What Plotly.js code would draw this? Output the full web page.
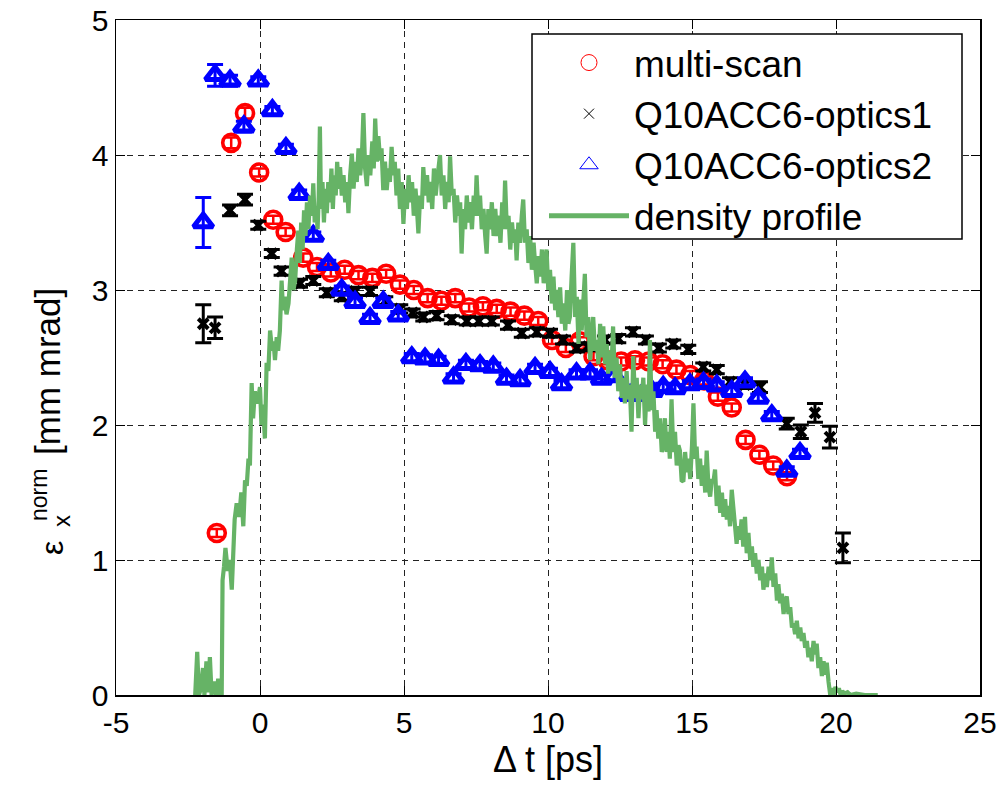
<!DOCTYPE html>
<html><head><meta charset="utf-8">
<script src="https://cdn.plot.ly/plotly-3.0.1.min.js"></script>
<style>body{margin:0;background:#fff}</style></head><body>
<div id="chart" style="width:1005px;height:789px"></div>
<script>
// multi-scan
const redX = [-1.5,-1.0,-0.52,-0.03,0.46,0.89,1.50,1.98,2.46,2.94,3.42,3.90,4.38,4.86,5.34,5.82,6.30,6.78,7.26,7.74,8.22,8.70,9.18,9.66,10.14,10.62,11.10,11.58,12.06,12.54,13.02,13.50,13.98,14.46,14.94,15.42,15.90,16.38,16.86,17.34,17.82,18.30];
const redY = [1.20,4.09,4.31,3.87,3.52,3.43,3.24,3.17,3.13,3.15,3.11,3.09,3.12,3.04,3.00,2.94,2.92,2.94,2.87,2.88,2.86,2.84,2.81,2.77,2.63,2.57,2.62,2.51,2.48,2.47,2.48,2.47,2.45,2.41,2.37,2.33,2.21,2.13,1.89,1.78,1.70,1.62];
const redErr = [0.03,0.04,0.04,0.03,0.03,0.03,0.03,0.03,0.03,0.03,0.03,0.03,0.03,0.03,0.03,0.03,0.03,0.03,0.03,0.03,0.03,0.03,0.03,0.03,0.03,0.03,0.03,0.03,0.03,0.03,0.03,0.03,0.03,0.03,0.03,0.03,0.03,0.03,0.03,0.03,0.03,0.03];
// Q10ACC6-optics1
const blackX = [-1.97,-1.56,-1.04,-0.52,-0.06,0.41,0.75,1.39,1.85,2.32,2.84,3.30,3.82,4.35,4.87,5.30,5.67,6.13,6.66,7.18,7.60,8.05,8.61,9.09,9.61,10.07,10.52,11.00,11.39,11.98,12.44,12.95,13.40,13.85,14.35,14.87,15.39,15.86,16.32,16.84,17.36,18.29,18.78,19.27,19.79,20.24];
const blackY = [2.75,2.72,3.59,3.67,3.48,3.27,3.14,3.05,3.07,2.98,2.95,2.99,2.99,2.92,2.86,2.83,2.80,2.81,2.78,2.77,2.77,2.77,2.74,2.68,2.69,2.68,2.63,2.57,2.58,2.63,2.64,2.69,2.63,2.57,2.60,2.56,2.43,2.41,2.32,2.30,2.28,2.01,1.95,2.09,1.91,1.09];
const blackErr = [0.14,0.08,0.04,0.04,0.03,0.03,0.03,0.03,0.03,0.03,0.03,0.03,0.03,0.03,0.03,0.03,0.03,0.03,0.03,0.03,0.03,0.03,0.03,0.03,0.03,0.03,0.03,0.03,0.03,0.03,0.03,0.03,0.03,0.03,0.03,0.03,0.03,0.03,0.03,0.03,0.04,0.04,0.05,0.07,0.08,0.11];
// Q10ACC6-optics2
const blueX = [-1.97,-1.56,-1.04,-0.56,-0.06,0.43,0.90,1.36,1.85,2.37,2.84,3.30,3.82,4.28,4.80,5.27,5.73,6.20,6.72,7.15,7.64,8.10,8.56,9.03,9.55,10.07,10.47,10.99,11.46,11.86,12.30,12.85,13.25,13.62,14.00,14.41,14.93,15.40,15.86,16.38,16.84,17.30,17.77,18.29,18.75];
const blueY = [3.50,4.59,4.55,4.21,4.55,4.33,4.05,3.71,3.40,3.19,3.00,2.91,2.79,2.91,2.81,2.50,2.49,2.48,2.35,2.45,2.44,2.43,2.34,2.33,2.42,2.39,2.30,2.38,2.38,2.34,2.36,2.22,2.22,2.25,2.28,2.27,2.30,2.31,2.29,2.25,2.32,2.20,2.07,1.66,1.79];
const blueErr = [0.185,0.08,0.04,0.04,0.03,0.03,0.03,0.03,0.03,0.03,0.03,0.03,0.03,0.03,0.03,0.03,0.03,0.03,0.03,0.03,0.03,0.03,0.03,0.03,0.03,0.03,0.03,0.03,0.03,0.03,0.03,0.03,0.03,0.03,0.03,0.03,0.03,0.03,0.03,0.03,0.03,0.03,0.03,0.03,0.03];
// density profile
const densX = [-2.25,-2.18,-2.12,-2.05,-1.98,-1.93,-1.86,-1.8,-1.74,-1.68,-1.6,-1.52,-1.45,-1.38,-1.33,-1.3,-1.25,-1.2,-1.12,-1.05,-0.98,-0.93,-0.88,-0.81,-0.72,-0.65,-0.58,-0.52,-0.46,-0.4,-0.35,-0.29,-0.24,-0.18,-0.12,-0.06,0.0,0.05,0.1,0.17,0.23,0.29,0.35,0.42,0.47,0.52,0.58,0.63,0.69,0.75,0.8,0.86,0.92,0.99,1.05,1.10,1.16,1.22,1.28,1.33,1.38,1.43,1.48,1.53,1.58,1.63,1.68,1.74,1.8,1.85,1.9,1.95,2.0,2.04,2.08,2.12,2.17,2.22,2.27,2.32,2.37,2.43,2.48,2.53,2.58,2.63,2.68,2.73,2.78,2.84,2.9,2.96,3.02,3.07,3.13,3.19,3.25,3.3,3.36,3.42,3.48,3.54,3.59,3.65,3.71,3.77,3.83,3.9,3.95,4.0,4.06,4.11,4.17,4.22,4.28,4.34,4.40,4.46,4.51,4.57,4.63,4.68,4.74,4.8,4.86,4.92,4.98,5.04,5.1,5.16,5.22,5.28,5.34,5.4,5.45,5.50,5.56,5.62,5.67,5.73,5.8,5.86,5.92,5.98,6.04,6.1,6.17,6.25,6.31,6.37,6.43,6.49,6.55,6.6,6.66,6.72,6.78,6.84,6.9,6.95,7.0,7.06,7.12,7.18,7.24,7.3,7.36,7.42,7.47,7.52,7.58,7.64,7.7,7.76,7.82,7.87,7.93,7.99,8.05,8.11,8.17,8.23,8.29,8.35,8.41,8.46,8.51,8.57,8.63,8.69,8.75,8.81,8.86,8.91,8.97,9.03,9.09,9.14,9.2,9.26,9.32,9.38,9.44,9.5,9.55,9.61,9.67,9.73,9.79,9.85,9.9,9.95,10.01,10.07,10.13,10.19,10.25,10.3,10.36,10.42,10.48,10.54,10.6,10.66,10.71,10.76,10.82,10.88,10.94,11.0,11.06,11.11,11.17,11.23,11.28,11.34,11.4,11.46,11.52,11.57,11.63,11.69,11.75,11.81,11.87,11.92,11.98,12.04,12.09,12.15,12.2,12.26,12.32,12.38,12.44,12.5,12.56,12.62,12.67,12.73,12.78,12.84,12.9,12.96,13.02,13.08,13.14,13.2,13.25,13.31,13.37,13.43,13.49,13.54,13.6,13.66,13.72,13.77,13.83,13.89,13.95,14.0,14.06,14.12,14.18,14.23,14.29,14.35,14.41,14.47,14.53,14.58,14.64,14.7,14.76,14.82,14.88,14.94,15.0,15.05,15.11,15.16,15.22,15.28,15.34,15.4,15.46,15.51,15.57,15.63,15.69,15.74,15.80,15.86,15.92,15.98,16.04,16.09,16.15,16.21,16.27,16.32,16.38,16.43,16.49,16.55,16.6,16.66,16.72,16.78,16.84,16.9,16.96,17.02,17.08,17.13,17.19,17.25,17.31,17.37,17.43,17.48,17.54,17.6,17.66,17.72,17.77,17.83,17.89,17.95,18.0,18.06,18.12,18.18,18.24,18.29,18.35,18.41,18.47,18.52,18.58,18.64,18.7,18.76,18.81,18.87,18.93,18.99,19.04,19.1,19.16,19.22,19.27,19.33,19.39,19.45,19.51,19.57,19.62,19.68,19.74,19.8,19.86,19.92,19.98,20.04,20.1,20.16,20.22,20.28,20.4,20.5,20.7,21.0,21.45];
const densY = [0,0.32,0,0.05,0.2,0,0.25,0.02,0.28,0,0.1,0,0.12,0,0,0.85,0.95,1.09,0.92,1.0,0.78,1.17,1.3,1.42,1.32,1.5,1.25,1.59,1.55,1.75,1.7,2.31,2.05,2.25,2.16,2.2,2.28,2.0,2.15,1.9,2.46,2.4,2.70,2.55,2.62,2.48,2.65,2.55,2.70,3.07,2.85,2.95,2.82,2.90,3.1,3.24,3.0,3.07,3.3,3.44,3.2,3.5,3.3,3.59,3.4,3.65,3.45,3.7,3.55,3.79,3.5,3.62,3.45,3.7,4.21,3.6,3.8,3.5,3.75,3.57,3.8,3.65,3.9,3.6,3.85,3.7,3.95,3.75,3.91,3.7,3.85,3.65,3.8,3.57,3.85,4.01,3.75,3.95,3.8,4.05,3.85,4.0,4.31,3.9,3.77,4.0,3.85,4.1,3.9,4.27,3.95,4.14,3.96,4.05,3.74,3.95,3.74,3.9,3.8,4.06,3.85,3.95,3.7,3.9,3.6,3.8,3.49,3.75,3.6,3.85,3.65,3.8,3.55,3.75,3.6,3.42,3.7,3.6,3.91,3.7,3.85,3.65,3.8,3.6,3.9,3.7,3.85,4.0,3.7,3.85,3.6,3.8,3.65,3.99,3.7,3.75,3.5,3.7,3.55,3.65,3.27,3.6,3.45,3.7,3.5,3.65,3.45,3.7,3.55,3.85,3.55,3.7,3.45,3.6,3.4,3.27,3.6,3.45,3.65,3.4,3.6,3.4,3.55,3.35,3.65,3.45,3.81,3.45,3.55,3.3,3.5,3.35,3.45,3.22,3.5,3.35,3.55,3.67,3.35,3.45,3.2,3.4,3.15,3.35,3.2,3.05,3.25,3.1,3.3,3.05,3.2,3.30,3.0,3.15,2.9,3.1,2.85,3.0,2.8,3.02,2.75,2.9,2.7,3.0,2.75,2.80,3.1,3.35,2.8,2.95,2.6,2.93,2.7,2.9,3.12,2.65,2.8,2.48,2.7,2.80,2.55,2.63,2.45,2.75,2.5,2.73,2.45,2.6,2.38,2.55,2.4,2.73,2.35,2.5,2.25,2.45,2.2,2.35,2.16,2.4,2.19,2.3,1.95,2.51,2.2,2.35,2.05,2.3,2.19,2.35,2.0,2.3,2.1,2.63,2.11,2.25,1.95,2.11,1.9,2.05,1.8,1.84,2.05,1.8,1.95,1.75,2.19,1.8,1.95,1.7,1.85,1.81,1.59,1.58,1.8,1.65,1.75,1.6,1.85,2.16,1.75,1.84,1.6,1.75,1.55,1.7,1.5,1.81,1.55,1.47,1.6,1.57,1.67,1.4,1.55,1.35,1.5,1.32,1.45,1.3,1.4,1.25,1.52,1.4,1.3,1.12,1.25,1.15,1.3,1.1,1.32,1.05,1.2,1.0,1.1,0.95,1.05,0.9,1.0,0.85,0.95,0.78,0.9,0.8,0.95,0.85,1.02,0.8,0.9,0.7,0.82,0.68,0.75,0.6,0.7,0.73,0.6,0.65,0.5,0.53,0.45,0.55,0.42,0.5,0.4,0.46,0.35,0.4,0.28,0.35,0.25,0.4,0.3,0.38,0.2,0.28,0.14,0.25,0.15,0.24,0.1,0.0,0.05,0.0,0.06,0.02,0.05,0.0,0.03,0.01,0.02,0.0,0.01,0.0,0.0];

const xTicks = [-5,0,5,10,15,20,25];
const yTicks = [0,1,2,3,4,5];
const names = ['multi-scan','Q10ACC6-optics1','Q10ACC6-optics2','density profile'];

const RED='#ff0000', BLK='#000000', BLU='#0000ff', GRN='#66b366';
const FONT = 'Liberation Sans, Arial, sans-serif';

const traces = [
  {x:redX, y:redY, type:'scatter', mode:'markers', showlegend:false,
   marker:{symbol:'circle-open', size:17, color:RED, line:{width:3.6, color:RED}},
   error_y:{type:'data', array:redErr, visible:true, color:RED, thickness:2.5, width:7}},
  {x:blackX, y:blackY, type:'scatter', mode:'markers', showlegend:false,
   marker:{symbol:'x-thin-open', size:10, color:BLK, line:{width:4, color:BLK}},
   error_y:{type:'data', array:blackErr, visible:true, color:BLK, thickness:3, width:8}},
  {x:blueX, y:blueY, type:'scatter', mode:'markers', showlegend:false,
   marker:{symbol:'triangle-up-open', size:17, color:BLU, line:{width:5, color:BLU}},
   error_y:{type:'data', array:blueErr, visible:true, color:BLU, thickness:3, width:8}},
  {x:densX, y:densY, type:'scatter', mode:'lines', showlegend:false,
   line:{color:GRN, width:4.2}},
  // legend entries
  {x:[null], y:[null], type:'scatter', mode:'markers', name:names[0],
   marker:{symbol:'circle-open', size:17, color:RED, line:{width:1, color:RED}}},
  {x:[null], y:[null], type:'scatter', mode:'markers', name:names[1],
   marker:{symbol:'x-thin-open', size:10, color:BLK, line:{width:1, color:BLK}}},
  {x:[null], y:[null], type:'scatter', mode:'markers', name:names[2],
   marker:{symbol:'triangle-up-open', size:19, color:BLU, line:{width:1, color:BLU}}},
  {x:[null], y:[null], type:'scatter', mode:'lines', name:names[3],
   line:{color:GRN, width:5}}
];

const axisCommon = {
  showline:true, linecolor:'#000', linewidth:1.5, mirror:'ticks',
  ticks:'inside', ticklen:9, tickwidth:1, tickcolor:'#000',
  showgrid:true, gridcolor:'#222', gridwidth:1, griddash:'6px,5px',
  zeroline:false, tickfont:{family:FONT, size:30, color:'#000'}
};

function px2x(p){ return (p-116)/864; }
function px2y(p){ return (695-p)/675; }

const layout = {
  width:1005, height:789,
  paper_bgcolor:'#fff', plot_bgcolor:'#fff',
  margin:{l:116, r:25, t:20, b:94},
  font:{family:FONT, color:'#000'},
  xaxis:Object.assign({}, axisCommon, {
    range:[-5,25], tickvals:xTicks, ticktext:xTicks.map(String),
    title:{text:'\u0394 t [ps]', font:{family:FONT, size:36}, standoff:9}
  }),
  yaxis:Object.assign({}, axisCommon, {
    range:[0,5], tickvals:yTicks, ticktext:yTicks.map(String)
  }),
  legend:{
    x:px2x(544), y:px2y(32), xanchor:'left', yanchor:'top',
    bgcolor:'rgba(0,0,0,0)', borderwidth:0,
    font:{family:FONT, size:37, color:'#000'},
    itemwidth:80, tracegroupgap:0
  },
  shapes:[
    {type:'rect', xref:'paper', yref:'paper', layer:'above',
     x0:px2x(532), x1:px2x(962), y0:px2y(239), y1:px2y(34),
     fillcolor:'#fff', line:{color:'#000', width:1.5}}
  ],
  annotations:[
    {text:'\u03b5', xref:'paper', yref:'paper', x:px2x(52), y:px2y(548), showarrow:false,
     textangle:-90, font:{family:FONT, size:32, color:'#000'}, xanchor:'center', yanchor:'middle'},
    {text:'x', xref:'paper', yref:'paper', x:px2x(61), y:px2y(521), showarrow:false,
     textangle:-90, font:{family:FONT, size:24, color:'#000'}, xanchor:'center', yanchor:'middle'},
    {text:'norm', xref:'paper', yref:'paper', x:px2x(39), y:px2y(495), showarrow:false,
     textangle:-90, font:{family:FONT, size:23, color:'#000'}, xanchor:'center', yanchor:'middle'},
    {text:'[mm mrad]', xref:'paper', yref:'paper', x:px2x(48), y:px2y(372), showarrow:false,
     textangle:-90, font:{family:FONT, size:35, color:'#000'}, xanchor:'center', yanchor:'middle'}
  ]
};

Plotly.newPlot('chart', traces, layout, {displayModeBar:false, staticPlot:true});
</script></body></html>
